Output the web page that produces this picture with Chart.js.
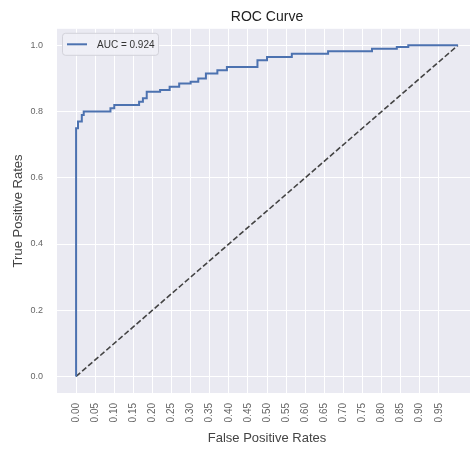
<!DOCTYPE html>
<html>
<head>
<meta charset="utf-8">
<script src="https://cdn.jsdelivr.net/npm/chart.js@4"></script>
<style>
  html, body { margin: 0; padding: 0; background: #fff; overflow: hidden; }
  #wrap { width: 478px; height: 452px; }
</style>
</head>
<body>
<div id="wrap"><canvas id="rocChart" width="478" height="452"></canvas></div>
<script>
// ROC points (corners of the step curve)
const fpr = [0, 0, 0.005, 0.005, 0.015, 0.015, 0.02, 0.02, 0.09, 0.09, 0.10, 0.10,
  0.165, 0.165, 0.175, 0.175, 0.185, 0.185, 0.22, 0.22, 0.245, 0.245, 0.27, 0.27,
  0.30, 0.30, 0.32, 0.32, 0.34, 0.34, 0.37, 0.37, 0.395, 0.395, 0.475, 0.475,
  0.50, 0.50, 0.565, 0.565, 0.66, 0.66, 0.775, 0.775, 0.84, 0.84, 0.87, 0.87, 1.0];
const tpr = [0, 0.75, 0.75, 0.77, 0.77, 0.79, 0.79, 0.80, 0.80, 0.81, 0.81, 0.82,
  0.82, 0.83, 0.83, 0.84, 0.84, 0.86, 0.86, 0.865, 0.865, 0.875, 0.875, 0.885,
  0.885, 0.89, 0.89, 0.90, 0.90, 0.915, 0.915, 0.925, 0.925, 0.935, 0.935, 0.955,
  0.955, 0.965, 0.965, 0.975, 0.975, 0.982, 0.982, 0.99, 0.99, 0.995, 0.995, 1.0, 1.0];
const chanceX = [0, 1];
const chanceY = [0, 1];
const aucLabel = "AUC = 0.924";
const xTicks = [0, 0.05, 0.10, 0.15, 0.20, 0.25, 0.30, 0.35, 0.40, 0.45, 0.50,
  0.55, 0.60, 0.65, 0.70, 0.75, 0.80, 0.85, 0.90, 0.95];
const yTicks = [0, 0.2, 0.4, 0.6, 0.8, 1.0];

const FONT = "'Liberation Sans', Arial, sans-serif";
const BLUE = "#4c72b0";

const plotBg = {
  id: "plotBg",
  beforeDraw(chart) {
    const { ctx, chartArea: a } = chart;
    ctx.save();
    ctx.fillStyle = "#eaeaf2";
    ctx.fillRect(a.left, a.top, a.right - a.left, a.bottom - a.top);
    ctx.restore();
  },
};

const insideLegend = {
  id: "insideLegend",
  afterDraw(chart) {
    const { ctx, chartArea: a } = chart;
    const x = a.left + 5, y = a.top + 4, w = 96, h = 22;
    ctx.save();
    ctx.beginPath();
    ctx.roundRect(x + 0.5, y + 0.5, w, h, 3);
    ctx.fillStyle = "rgba(240,240,246,0.9)";
    ctx.fill();
    ctx.strokeStyle = "#d2d2da";
    ctx.lineWidth = 1;
    ctx.stroke();
    ctx.beginPath();
    ctx.moveTo(x + 5, y + h / 2 + 0.5);
    ctx.lineTo(x + 25, y + h / 2 + 0.5);
    ctx.strokeStyle = BLUE;
    ctx.lineWidth = 2;
    ctx.stroke();
    ctx.fillStyle = "#333";
    ctx.font = "10px " + FONT;
    ctx.textBaseline = "middle";
    ctx.fillText(chart.data.datasets[0].label, x + 35, y + h / 2 + 1);
    ctx.restore();
  },
};

const ctx = document.getElementById("rocChart");

new Chart(ctx, {
  type: "scatter",
  data: {
    datasets: [
      {
        label: aucLabel,
        data: fpr.map((v, i) => ({ x: v, y: tpr[i] })),
        showLine: true,
        borderColor: BLUE,
        borderWidth: 2,
        pointRadius: 0,
        fill: false,
      },
      {
        label: "chance",
        data: chanceX.map((v, i) => ({ x: v, y: chanceY[i] })),
        showLine: true,
        borderColor: "#444",
        borderWidth: 1.6,
        borderDash: [5.5, 2.5],
        pointRadius: 0,
        fill: false,
      },
    ],
  },
  options: {
    responsive: false,
    animation: false,
    layout: { padding: { right: 1, left: 0, top: 0, bottom: 0 } },
    plugins: {
      legend: { display: false },
      tooltip: { enabled: false },
      title: {
        display: true,
        text: "ROC Curve",
        fullSize: false,
        color: "#222",
        font: { family: FONT, size: 14, weight: "normal" },
        padding: { top: 9, bottom: 3 },
      },
    },
    scales: {
      x: {
        type: "linear",
        min: -0.05,
        max: 1.05,
        afterBuildTicks: (s) => { s.ticks = xTicks.map((v) => ({ value: v })); },
        afterFit: (s) => { s.height = 59; },
        grid: { color: "#ffffff", lineWidth: 1, drawTicks: false },
        border: { display: false },
        ticks: {
          autoSkip: false,
          minRotation: 90,
          maxRotation: 90,
          padding: 10,
          color: "#666",
          font: { family: FONT, size: 10 },
          callback: (v) => Number(v).toFixed(2),
        },
        title: {
          display: true,
          text: "False Positive Rates",
          color: "#444",
          font: { family: FONT, size: 13 },
          padding: { top: 0, bottom: 6 },
        },
      },
      y: {
        type: "linear",
        min: -0.05,
        max: 1.05,
        afterBuildTicks: (s) => { s.ticks = yTicks.map((v) => ({ value: v })); },
        afterFit: (s) => { s.width = 57; },
        grid: { color: "#ffffff", lineWidth: 1, drawTicks: false },
        border: { display: false },
        ticks: {
          padding: 14,
          color: "#666",
          font: { family: FONT, size: 9 },
          callback: (v) => Number(v).toFixed(1),
        },
        title: {
          display: true,
          text: "True Positive Rates",
          color: "#444",
          font: { family: FONT, size: 13 },
          padding: { top: 11, bottom: 0 },
        },
      },
    },
  },
  plugins: [plotBg, insideLegend],
});
</script>
</body>
</html>
